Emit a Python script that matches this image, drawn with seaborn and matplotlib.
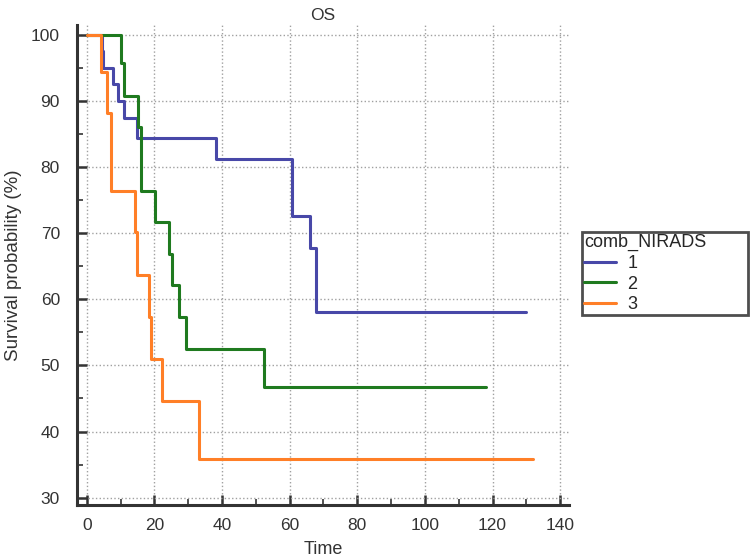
import pandas as pd
import matplotlib.pyplot as plt
import seaborn as sns

# Kaplan-Meier steps (time, survival %)
group_names = ['1', '2', '3']

g1_time = [0, 4.4, 4.9, 7.9, 9.3, 11.0, 15.0, 38.2, 60.8, 65.9, 67.8, 130]
g1_surv = [100, 97.5, 95.0, 92.5, 90.0, 87.4, 84.4, 81.2, 72.6, 67.8, 58.1, 58.1]

g2_time = [0, 10.1, 11.0, 15.3, 16.1, 20.2, 24.3, 25.3, 27.3, 29.3, 52.5, 118]
g2_surv = [100, 95.7, 90.8, 86.0, 76.4, 71.7, 66.8, 62.1, 57.3, 52.5, 46.8, 46.8]

g3_time = [0, 4.2, 6.1, 7.2, 14.3, 15.0, 18.4, 19.0, 22.2, 33.3, 132]
g3_surv = [100, 94.3, 88.2, 76.4, 70.2, 63.6, 57.3, 50.9, 44.6, 35.8, 35.8]

colors = ['#4848a8', '#1f7a1f', '#ff7f27']

frames = []
for name, t, s in zip(group_names, [g1_time, g2_time, g3_time], [g1_surv, g2_surv, g3_surv]):
    frames.append(pd.DataFrame({'Time': t, 'Survival': s, 'comb_NIRADS': name}))
df = pd.concat(frames, ignore_index=True)

sns.set_style('white')
plt.rcParams['font.family'] = ['Liberation Sans', 'DejaVu Sans']

fig = plt.figure(figsize=(7.51, 5.59), dpi=100)
ax = fig.add_axes([0.102, 0.0966, 0.656, 0.858])

sns.lineplot(data=df, x='Time', y='Survival', hue='comb_NIRADS',
             palette=colors, drawstyle='steps-post', estimator=None,
             sort=False, linewidth=2.2, ax=ax)

ax.set_xlim(-3, 142.7)
ax.set_ylim(28.9, 101.4)
ax.set_xticks(range(0, 141, 20))
ax.set_xticks(range(10, 141, 20), minor=True)
ax.set_yticks(range(30, 101, 10))
ax.set_yticks(range(35, 101, 10), minor=True)

ax.grid(True, which='major', linestyle=':', color='#a0a0a0', linewidth=1)
ax.tick_params(which='major', direction='in', length=7, width=1.8,
               color='#333333', labelsize=12.5, labelcolor='#333333')
ax.tick_params(axis='x', which='major', pad=9)
ax.tick_params(axis='y', which='major', pad=12)
ax.tick_params(which='minor', direction='in', length=4, width=1.2, color='#333333')
ax.tick_params(axis='x', bottom=True, which='both')
ax.tick_params(axis='y', left=True, which='both')

for side in ['top', 'right']:
    ax.spines[side].set_visible(False)
for side in ['left', 'bottom']:
    ax.spines[side].set_color('#333333')
    ax.spines[side].set_linewidth(2.2)

ax.set_xlabel('Time', fontsize=13, color='#333333', labelpad=6)
ax.set_ylabel('Survival probability (%)', fontsize=13.5, color='#333333')
ax.yaxis.set_label_coords(-0.11, 0.5)
ax.set_title('OS', fontsize=12.5, color='#333333', pad=4)

handles, labels = ax.get_legend_handles_labels()
ax.get_legend().remove()
leg = fig.legend(handles, labels, title='comb_NIRADS', loc='upper left',
                 bbox_to_anchor=(0.7746, 0.438, 0.222, 0.147), mode='expand',
                 alignment='left', fontsize=13, title_fontsize=13,
                 frameon=True, fancybox=False, handlelength=1.8,
                 borderpad=0.12, labelspacing=0.2, handletextpad=0.6,
                 borderaxespad=0)
leg.get_frame().set_edgecolor('#222222')
leg.get_frame().set_linewidth(2)
for line in leg.get_lines():
    line.set_linewidth(2.2)

fig.savefig('out.png', dpi=100)
